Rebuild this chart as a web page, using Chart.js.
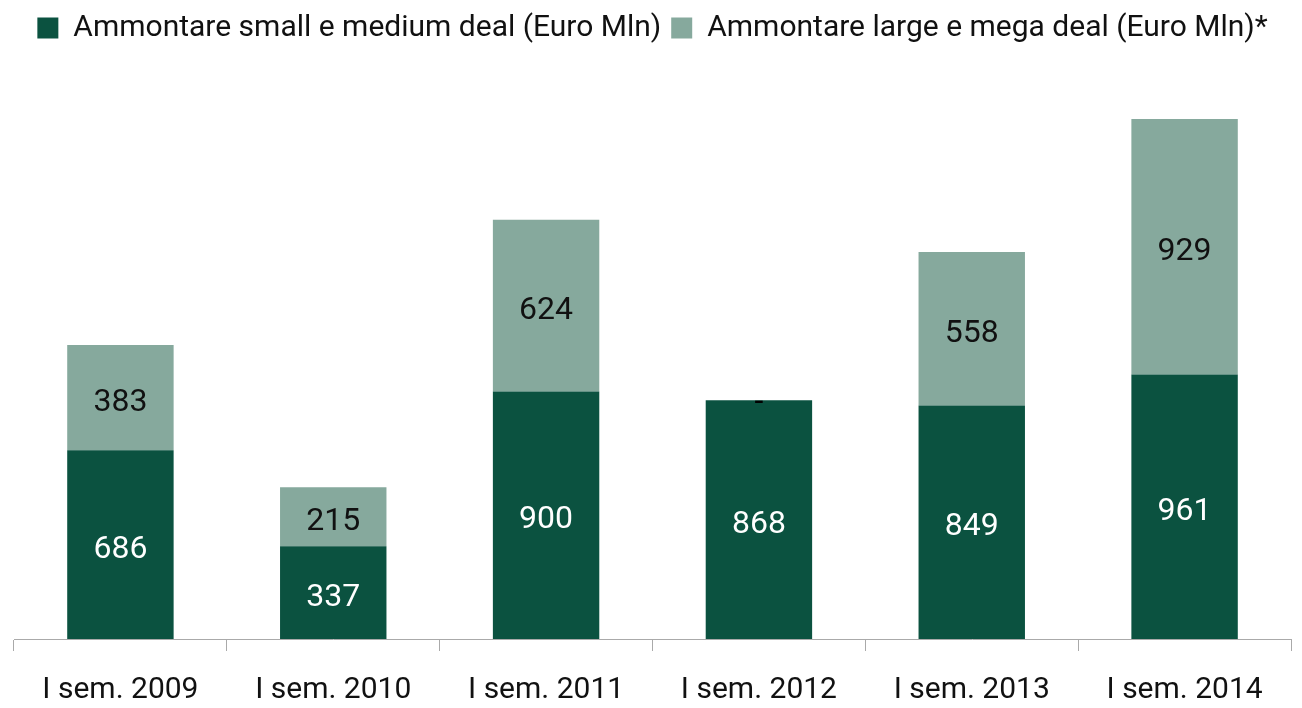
<!DOCTYPE html>
<html>
<head>
<meta charset="utf-8">
<script src="https://cdn.jsdelivr.net/npm/chart.js@4.4.0/dist/chart.umd.min.js"></script>
<style>
  html, body { margin: 0; padding: 0; background: #fff; }
  #wrap { width: 1302px; height: 708px; }
</style>
</head>
<body>
<div id="wrap"><canvas id="dealChart" width="1302" height="708"></canvas></div>
<script>
const categories = ['I sem. 2009', 'I sem. 2010', 'I sem. 2011', 'I sem. 2012', 'I sem. 2013', 'I sem. 2014'];
const smallMedium = [686, 337, 900, 868, 849, 961];
const largeMega = [383, 215, 624, 0, 558, 929];
const seriesNames = ['Ammontare small e medium deal (Euro Mln)', 'Ammontare large e mega deal (Euro Mln)*'];

const FONT = 'Roboto, "Open Sans", sans-serif';

// draw the value in the middle of each segment, "-" for empty ones
const segmentLabels = {
    id: 'segmentLabels',
    afterDatasetsDraw(chart) {
        const ctx = chart.ctx;
        ctx.save();
        ctx.font = '32px ' + FONT;
        ctx.textAlign = 'center';
        ctx.textBaseline = 'middle';
        chart.data.datasets.forEach((ds, i) => {
            const meta = chart.getDatasetMeta(i);
            meta.data.forEach((bar, j) => {
                const v = ds.data[j];
                ctx.fillStyle = i === 0 ? '#ffffff' : '#111111';
                if (v === 0) {
                    ctx.fillStyle = '#000000';
                    ctx.fillText('-', bar.x, bar.y + 3);
                } else {
                    ctx.fillText(v, bar.x, (bar.y + bar.base) / 2 + 5);
                }
            });
        });
        ctx.restore();
    }
};

new Chart(document.getElementById('dealChart'), {
    type: 'bar',
    data: {
        labels: categories,
        datasets: [
            {
                label: seriesNames[0],
                data: smallMedium,
                backgroundColor: '#0b5240',
                barPercentage: 0.5,
                categoryPercentage: 1
            },
            {
                label: seriesNames[1],
                data: largeMega,
                backgroundColor: '#86a99d',
                barPercentage: 0.5,
                categoryPercentage: 1
            }
        ]
    },
    options: {
        responsive: false,
        animation: false,
        layout: { padding: { left: 14, right: 11, top: 3, bottom: -21 } },
        plugins: {
            legend: {
                position: 'top',
                labels: {
                    boxWidth: 21,
                    boxHeight: 21,
                    padding: 10,
                    color: '#111',
                    font: { family: FONT, size: 30 }
                }
            },
            tooltip: { enabled: false }
        },
        scales: {
            x: {
                stacked: true,
                grid: {
                    offset: true,
                    drawOnChartArea: false,
                    drawTicks: true,
                    tickLength: 12,
                    color: '#aaaaaa'
                },
                border: { color: '#aaaaaa', width: 1 },
                ticks: {
                    padding: 21,
                    color: '#111',
                    font: { family: FONT, size: 30 }
                }
            },
            y: {
                stacked: true,
                display: false,
                min: 0,
                max: 2130
            }
        }
    },
    plugins: [segmentLabels]
});
</script>
</body>
</html>
